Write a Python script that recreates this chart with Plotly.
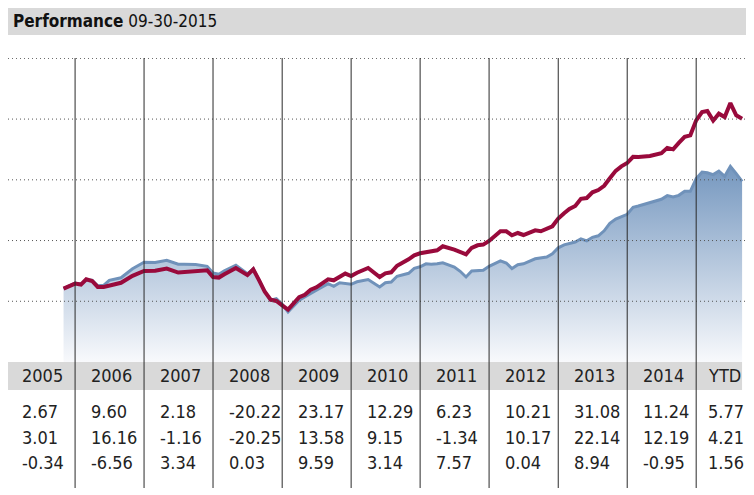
import plotly.graph_objects as go

# growth series, month index counted from Jan 2005 (0 = 2005-01)
fund_months = [10, 12, 13, 14, 15, 16, 17, 18, 20, 22, 24, 26, 28, 30, 31, 33, 35, 36, 37, 38,
               40, 42, 43, 44, 45, 46, 47, 48, 49, 51, 52, 53, 54, 56, 57, 59, 60, 61, 63, 65,
               66, 67, 68, 70, 71, 72, 74, 75, 76, 78, 80, 81, 82, 83, 84, 86, 87, 88, 89, 90,
               92, 93, 95, 96, 97, 98, 99, 100, 101, 102, 103, 104, 105, 106, 107, 108, 109, 110,
               112, 114, 115, 116, 117, 118, 119, 120, 121, 122, 123, 124, 125, 126, 127, 128]
fund_values = [11045, 11457, 11374, 11811, 11671, 11177, 11177, 11317, 11523, 12099, 12494, 12510,
               12691, 12362, 12403, 12535, 12551, 12000, 11951, 12222, 12741, 12156, 12634, 11728,
               10782, 10123, 10025, 9671, 9317, 10329, 10535, 10946, 11152, 11811, 11728, 12280,
               12082, 12346, 12741, 12000, 12304, 12387, 12922, 13457, 13786, 13950, 14115, 14197,
               14527, 14255, 13868, 14403, 14609, 14666, 14963, 15761, 15761, 15432, 15621, 15456,
               15843, 15761, 16173, 16806, 17242, 17596, 17843, 18436, 18502, 18971, 19160, 19506,
               20123, 20740, 21111, 21382, 21892, 21884, 21958, 22197, 22633, 22510, 23045, 23538,
               23662, 24896, 25579, 25662, 24872, 25448, 25168, 26320, 25308, 25036]

cat_months = [10, 12, 13, 14, 15, 16, 17, 18, 20, 22, 24, 26, 28, 30, 31, 33, 35, 36, 37, 38,
              40, 42, 43, 44, 45, 46, 47, 48, 49, 51, 52, 53, 54, 56, 57, 58, 60, 61, 63, 65,
              66, 67, 68, 70, 71, 72, 73, 74, 75, 76, 78, 79, 80, 81, 83, 84, 86, 87, 88, 89,
              90, 92, 94, 95, 96, 97, 99, 100, 101, 102, 103, 104, 105, 106, 108, 109, 110, 112,
              114, 115, 116, 117, 118, 119, 120, 121, 122, 123, 124, 125, 126, 127, 128]
cat_values = [11045, 11506, 11399, 11769, 11728, 11276, 11317, 11728, 11934, 12675, 13210, 13193,
              13374, 13045, 13045, 13029, 12881, 12329, 12222, 12510, 12963, 12263, 12675, 11728,
              10823, 10082, 10206, 9753, 9119, 10082, 10329, 10634, 10905, 11457, 11235, 11523,
              11399, 11605, 11786, 11177, 11523, 11588, 12058, 12304, 12716, 12839, 13086, 13045,
              13086, 13169, 12823, 12469, 12000, 12494, 12551, 12881, 13333, 13152, 12691, 13004,
              13086, 13498, 13646, 13909, 14403, 14650, 14880, 15144, 14979, 15267, 15391, 15802,
              16419, 16773, 17160, 17736, 17843, 18090, 18395, 18699, 18584, 18724, 19053, 19053,
              20098, 20641, 20576, 20427, 20724, 20288, 21111, 20510, 19876]

# calendar year returns table
periods = ['2005', '2006', '2007', '2008', '2009', '2010', '2011', '2012', '2013', '2014', 'YTD']
fund_returns = [2.67, 9.60, 2.18, -20.22, 23.17, 12.29, 6.23, 10.21, 31.08, 11.24, 5.77]
cat_returns = [3.01, 16.16, -1.16, -20.25, 13.58, 9.15, -1.34, 10.17, 22.14, 12.19, 4.21]
diff_returns = [-0.34, -6.56, 3.34, 0.03, 9.59, 3.14, 7.57, 0.04, 8.94, -0.95, 1.56]

grid_vals = [10000, 15000, 20000, 25000, 30000]

x_start = '2005-01-11'
x_end = '2015-11-03'


def month_to_date(m):
    return '%d-%02d-01' % (2005 + m // 12, m % 12 + 1)


font_narrow = 'Liberation Sans Narrow, Arial Narrow, DejaVu Sans Condensed, sans-serif'
red = '#990a3c'
blue_line = '#7092ba'

fig = go.Figure()

fig.add_trace(go.Scatter(
    x=[month_to_date(m) for m in cat_months],
    y=cat_values,
    mode='lines',
    line=dict(color=blue_line, width=3),
    fill='tozeroy',
    fillgradient=dict(type='vertical', colorscale=[[0, '#f8f9fc'], [1, '#6a8fba']],
                      start=5000, stop=22500),
    hoverinfo='skip'
))

fig.add_trace(go.Scatter(
    x=[month_to_date(m) for m in fund_months],
    y=fund_values,
    mode='lines',
    line=dict(color=red, width=4),
    hoverinfo='skip'
))

shapes = []
# title band
shapes.append(dict(type='rect', xref='paper', yref='paper', x0=0, x1=1.01, y0=1.0757, y1=1.174,
                   fillcolor='#d9d9d9', line=dict(width=0), layer='below'))
# table header band
shapes.append(dict(type='rect', xref='paper', yref='paper', x0=0, x1=0.984, y0=-0.092, y1=0,
                   fillcolor='#d9d9d9', line=dict(width=0), layer='above'))
# dotted gridlines
for g in grid_vals:
    shapes.append(dict(type='line', xref='paper', yref='y', x0=0, x1=1, y0=g, y1=g,
                       line=dict(color='#555555', width=1, dash='1px,3px'), layer='above'))
# year separators
for yr in range(2006, 2016):
    shapes.append(dict(type='line', xref='x', yref='paper', x0='%d-01-01' % yr, x1='%d-01-01' % yr,
                       y0=1, y1=-0.4145, line=dict(color='#2a2a2a', width=1), layer='above'))

annotations = [dict(
    xref='paper', yref='paper', x=0, y=1.1217, xanchor='left', yanchor='middle', xshift=3,
    text='<b>Performance</b> 09-30-2015', showarrow=False,
    font=dict(family=font_narrow, size=17, color='#111111')
)]

row_y = [-0.046, -0.163, -0.249, -0.331]
rows = [periods,
        ['%.2f' % v for v in fund_returns],
        ['%.2f' % v for v in cat_returns],
        ['%.2f' % v for v in diff_returns]]
for ry, row in zip(row_y, rows):
    for i, txt in enumerate(row):
        # first column starts left of the visible x range
        col_x = x_start if i == 0 else '%d-01-01' % (2005 + i)
        shift = 14
        if i == 0:
            shift = 12
        elif i == len(row) - 1:
            shift = 10
        annotations.append(dict(
            xref='x', yref='paper', x=col_x, y=ry,
            xanchor='left', yanchor='middle', xshift=shift,
            text=txt, showarrow=False,
            font=dict(family=font_narrow, size=18, color='#222222')
        ))

fig.update_layout(
    width=746,
    height=487,
    plot_bgcolor='white',
    paper_bgcolor='white',
    showlegend=False,
    margin=dict(l=0, r=0, t=50, b=133),
    xaxis=dict(type='date', range=[x_start, x_end], showgrid=False,
               showticklabels=False, zeroline=False, showline=False, ticks=''),
    yaxis=dict(range=[5000, 30030], showgrid=False, showticklabels=False,
               zeroline=False, showline=False, ticks=''),
    shapes=shapes,
    annotations=annotations
)

fig.write_html("out.html")
